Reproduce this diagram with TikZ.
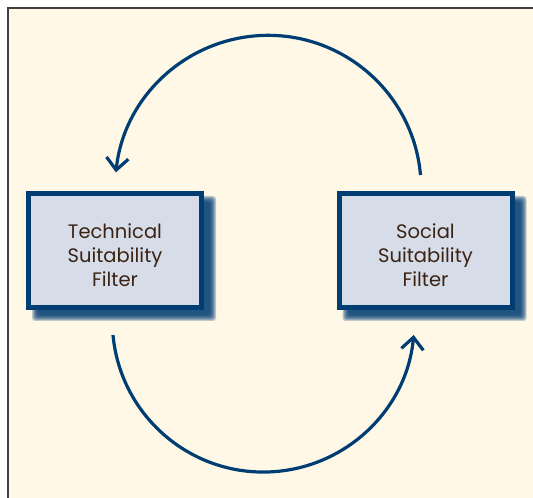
\documentclass[tikz,border=0pt]{standalone}
\usepackage{fontspec}
\newfontfamily\filterfont{Poppins}
\usetikzlibrary{arrows.meta}
\definecolor{Panel}{RGB}{255,248,230}
\definecolor{Frame}{RGB}{64,64,64}
\definecolor{FilterBlue}{RGB}{0,61,115}
\definecolor{FilterFill}{RGB}{214,220,232}
\definecolor{Label}{RGB}{59,35,20}
\pgfdeclarelayer{paper}
\pgfdeclarelayer{shade}
\pgfsetlayers{paper,shade,main}

\begin{document}
\begin{tikzpicture}[x=1pt, y=1pt]
	\tikzstyle{filter}=[draw=FilterBlue, line width=5pt, fill=FilterFill, shape=rectangle,
		minimum width=173pt, minimum height=114pt];
	\tikzstyle{tag}=[align=center, text=Label, font=\filterfont\fontsize{19.5}{24}\selectfont];
	\tikzstyle{flow}=[draw=FilterBlue, line width=3.2pt, -{Straight Barb[length=12pt, width=22pt]}];
	\useasboundingbox (0, 0) rectangle (533, 498);
	\clip (0, 0) rectangle (533, 498);
	% panel
	\begin{pgfonlayer}{paper}
		\fill [Panel] (8, -10) rectangle (545, 490);
		\draw [Frame, line width=2pt] (8, -10) -- (8, 490) -- (545, 490);
	\end{pgfonlayer}
	% filters
	\node [filter] (technical) at (115, 247.5) {};
	\node [filter] (social) at (425.5, 247.5) {};
	\node [tag] (technicaltag) at ([yshift=-5pt]technical.center) {Technical\\Suitability\\Filter};
	\node [tag] (socialtag) at ([yshift=-5pt]social.center) {Social\\Suitability\\Filter};
	% blurred shadows
	\begin{pgfonlayer}{shade}
		\foreach \f in {technical, social}
			\foreach \g in {-3,...,3}
				\fill [FilterBlue, opacity=.25, rounded corners=3pt]
					([shift={(9pt-\g pt, -8pt-\g pt)}]\f.south west) rectangle ([shift={(9pt+\g pt, -8pt+\g pt)}]\f.north east);
	\end{pgfonlayer}
	% loop
	\draw [flow] ([xshift=-5pt, yshift=16pt]social.north) arc [start angle=5, end angle=174, radius=153pt];
	\draw [flow] ([xshift=-2pt, yshift=-25pt]technical.south) arc [start angle=185.3, end angle=354.7, radius=151pt];
\end{tikzpicture}
\end{document}
